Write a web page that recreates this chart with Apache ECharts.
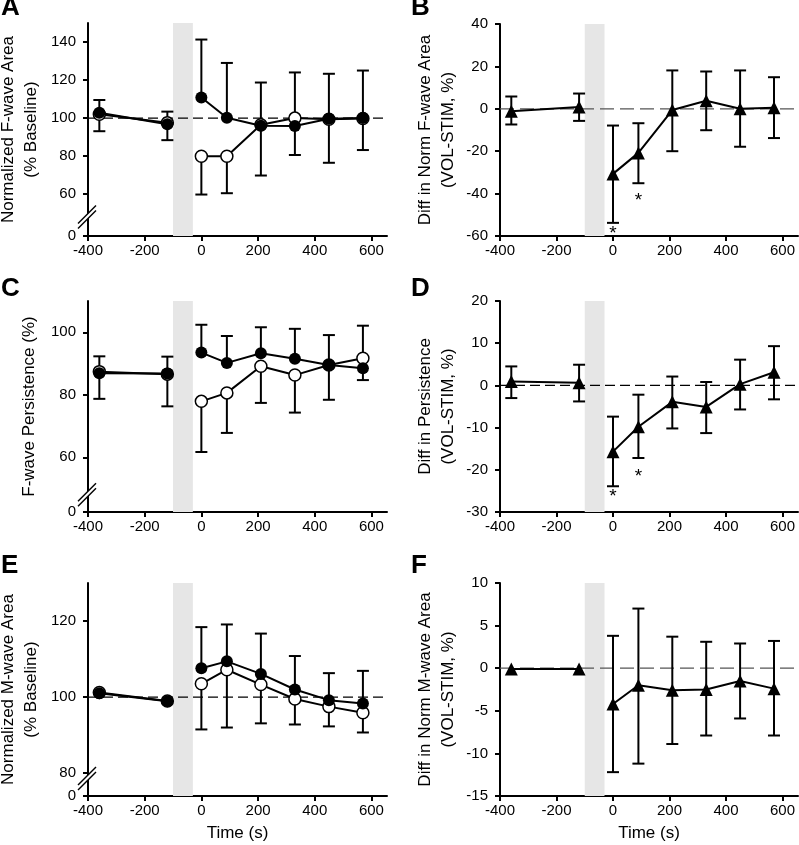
<!DOCTYPE html>
<html>
<head>
<meta charset="utf-8">
<script src="https://cdn.jsdelivr.net/npm/echarts@6/dist/echarts.min.js"></script>
<style>
html,body{margin:0;padding:0;background:#fff;}
#chart{width:799px;height:845px;}
</style>
</head>
<body>
<div id="chart"></div>
<script>
// ---------- data ----------
const times = [-360, -120, 0, 90, 210, 330, 450, 570];
const xTicks = [-400, -200, 0, 200, 400, 600];
const stimBand = [-100, -30];

// A: Normalized F-wave area (% baseline)
const aFilled      = [102.8, 96.8, 110.8, 100.2, 96.0, 95.8, 99.6, 100.0];
const aFilledUpper = [109.5, 103.4, 141.3, 129.0, 118.7, 124.0, 123.3, 125.0];
const aOpen        = [102.0, 97.5, 79.9, 79.9, 96.5, 100.0, 99.4, 99.8];
const aOpenLower   = [93.1, 88.4, 59.8, 60.5, 69.8, 80.6, 76.5, 83.2];
const aTicks = [60, 80, 100, 120, 140];

// B: Diff in norm F-wave area (VOL-STIM, %)
const bDiff  = [-1.1, 0.9, -30.7, -20.8, -0.6, 3.8, 0.0, 0.5];
const bUpper = [5.8, 7.2, -7.9, -6.8, 18.1, 17.6, 18.1, 14.9];
const bLower = [-7.4, -5.7, -53.8, -35.1, -20.0, -10.1, -17.9, -13.8];
const bTicks = [-60, -40, -20, 0, 20, 40];
const bStars = [[0, -57.2], [90, -41.5]];

// C: F-wave persistence (%)
const cFilled      = [86.9, 86.8, 93.5, 90.2, 93.3, 91.5, 89.5, 88.5];
const cFilledUpper = [92.3, 92.2, 102.4, 98.8, 101.6, 101.1, 99.1, 102.1];
const cOpen        = [87.4, 86.6, 77.9, 80.6, 89.1, 86.3, 89.5, 91.7];
const cOpenLower   = [78.7, 76.3, 61.7, 67.8, 77.4, 74.3, 78.4, 84.7];
const cTicks = [60, 80, 100];

// D: Diff in persistence (VOL-STIM, %)
const dDiff  = [0.9, 0.6, -15.7, -9.8, -3.9, -5.1, 0.3, 3.1];
const dUpper = [4.5, 4.9, -7.4, -2.2, 2.1, 0.8, 6.1, 9.3];
const dLower = [-3.0, -3.8, -23.9, -17.2, -10.2, -11.3, -5.7, -3.3];
const dTicks = [-30, -20, -10, 0, 10, 20];
const dStars = [[0, -25.5], [90, -20.8]];

// E: Normalized M-wave area (% baseline)
const eFilled      = [101.0, 98.9, 107.6, 109.4, 106.1, 102.0, 99.2, 98.3];
const eFilledUpper = [null, null, 118.4, 119.1, 116.7, 110.8, 106.3, 106.9];
const eOpen        = [101.2, 99.0, 103.5, 107.2, 103.3, 99.5, 97.5, 95.9];
const eOpenLower   = [null, null, 91.5, 92.0, 93.1, 92.8, 92.3, 90.7];
const eTicks = [80, 100, 120];

// F: Diff in norm M-wave area (VOL-STIM, %)
const fDiff  = [-0.1, -0.1, -4.2, -2.0, -2.6, -2.5, -1.5, -2.4];
const fUpper = [null, null, 3.8, 7.0, 3.7, 3.1, 2.9, 3.2];
const fLower = [null, null, -12.2, -11.2, -8.9, -7.9, -5.9, -7.9];
const fTicks = [-15, -10, -5, 0, 5, 10];

// ---------- layout ----------
const FONT = "'Liberation Sans', Arial, sans-serif";
const X_MIN = -400, X_MAX = 655;

const panels = [
  {letter:'A', grid:{left:88, top:23, width:299, height:213}, yMin:38, yMax:150, ticks:aTicks, brk:48,
   name:'Normalized F-wave Area\n(% Baseline)', nameGap:45, ref:100, refColor:'#000', refDash:[10,5],
   groups:[{vals:aOpen, ends:aOpenLower, open:true},{vals:aFilled, ends:aFilledUpper, open:false}]},
  {letter:'B', grid:{left:500, top:24, width:298, height:212}, yMin:-60, yMax:40, ticks:bTicks,
   name:'Diff in Norm F-wave Area\n(VOL-STIM, %)', nameGap:40, ref:0, refColor:'#555', refDash:[14,6],
   tri:{vals:bDiff, upper:bUpper, lower:bLower}, stars:bStars},
  {letter:'C', grid:{left:88, top:301, width:299, height:211}, yMin:42.5, yMax:110, ticks:cTicks, brk:48,
   name:'F-wave Persistence (%)', nameGap:47, ref:null,
   groups:[{vals:cOpen, ends:cOpenLower, open:true},{vals:cFilled, ends:cFilledUpper, open:false}]},
  {letter:'D', grid:{left:500, top:301, width:298, height:211}, yMin:-30, yMax:20, ticks:dTicks,
   name:'Diff in Persistence\n(VOL-STIM, %)', nameGap:40, ref:0, refColor:'#000', refDash:[10,5],
   tri:{vals:dDiff, upper:dUpper, lower:dLower}, stars:dStars},
  {letter:'E', grid:{left:88, top:583, width:299, height:213}, yMin:74, yMax:130, ticks:eTicks, brk:78.6,
   name:'Normalized M-wave Area\n(% Baseline)', nameGap:45, ref:100, refColor:'#000', refDash:[10,5], xName:'Time (s)',
   groups:[{vals:eOpen, ends:eOpenLower, open:true},{vals:eFilled, ends:eFilledUpper, open:false}]},
  {letter:'F', grid:{left:500, top:583, width:298, height:213}, yMin:-15, yMax:10, ticks:fTicks,
   name:'Diff in Norm M-wave Area\n(VOL-STIM, %)', nameGap:40, ref:0, refColor:'#555', refDash:[14,6], xName:'Time (s)',
   tri:{vals:fDiff, upper:fUpper, lower:fLower}}
];
const letterPos = {A:[1,-5], B:[411,-5], C:[1,276], D:[411,276], E:[1,553], F:[411,553]};

// ---------- option ----------
const grids = [], xAxes = [], yAxes = [], series = [], graphics = [];

function errSeries(i, vals, ends) {
  const data = [];
  times.forEach((t, k) => { if (ends[k] != null) data.push([t, vals[k], ends[k]]); });
  return {
    type:'custom', xAxisIndex:i, yAxisIndex:i, z:3, clip:false, silent:true,
    encode:{x:0, y:[1,2]}, data,
    renderItem:(params, api) => {
      const p = api.coord([api.value(0), api.value(1)]);
      const e = api.coord([api.value(0), api.value(2)]);
      const st = {stroke:'#000', lineWidth:2};
      return {type:'group', children:[
        {type:'line', shape:{x1:p[0], y1:p[1], x2:e[0], y2:e[1]}, style:st},
        {type:'line', shape:{x1:e[0]-6, y1:e[1], x2:e[0]+6, y2:e[1]}, style:st}
      ]};
    }
  };
}

function lineSegs(i, vals, style) {
  const pre = times.slice(0, 2).map((t, k) => [t, vals[k]]);
  const post = times.slice(2).map((t, k) => [t, vals[k + 2]]);
  return [pre, post].map(d => Object.assign({
    type:'line', xAxisIndex:i, yAxisIndex:i, data:d, silent:true,
    lineStyle:{color:'#000', width:2}
  }, style));
}

panels.forEach((p, i) => {
  grids.push(Object.assign({containLabel:false, outerBoundsMode:'none'}, p.grid));
  xAxes.push({
    type:'value', gridIndex:i, min:X_MIN, max:X_MAX,
    axisLine:{show:true, onZero:false, lineStyle:{color:'#000', width:2}},
    axisTick:{show:true, length:5, lineStyle:{color:'#000', width:2}, customValues:xTicks},
    axisLabel:{color:'#000', fontSize:15, fontFamily:FONT, margin:7, customValues:xTicks},
    splitLine:{show:false},
    name:p.xName || '', nameLocation:'middle', nameGap:29,
    nameTextStyle:{color:'#000', fontSize:17, fontFamily:FONT}
  });
  const yLabelVals = p.brk != null ? [p.yMin].concat(p.ticks) : p.ticks;
  yAxes.push({
    type:'value', gridIndex:i, min:p.yMin, max:p.yMax,
    axisLine:{show:true, onZero:false, lineStyle:{color:'#000', width:2}},
    axisTick:{show:true, length:5, lineStyle:{color:'#000', width:2}, customValues:yLabelVals},
    axisLabel:{color:'#000', fontSize:15, fontFamily:FONT, margin:12, customValues:yLabelVals,
      formatter:(v) => (p.brk != null && Math.abs(v - p.yMin) < 1e-6) ? '0' : String(v)},
    splitLine:{show:false},
    name:p.name, nameLocation:'middle', nameRotate:90, nameGap:p.nameGap,
    nameTextStyle:{color:'#000', fontSize:17, lineHeight:23, fontFamily:FONT}
  });

  // gray stimulation band
  series.push({
    type:'custom', xAxisIndex:i, yAxisIndex:i, z:1, silent:true,
    encode:{x:[0,2], y:1}, data:[[stimBand[0], p.yMin, stimBand[1]]],
    renderItem:(params, api) => {
      const cs = params.coordSys;
      const x1 = api.coord([api.value(0), api.value(1)])[0];
      const x2 = api.coord([api.value(2), api.value(1)])[0];
      return {type:'rect', shape:{x:x1, y:cs.y, width:x2 - x1, height:cs.height}, style:{fill:'#e6e6e6'}};
    }
  });

  // dashed reference line
  if (p.ref != null) {
    series.push({
      type:'custom', xAxisIndex:i, yAxisIndex:i, z:2, silent:true,
      encode:{x:[0,2], y:1}, data:[[X_MIN, p.ref, X_MAX]],
      renderItem:(params, api) => {
        const a = api.coord([api.value(0), api.value(1)]);
        const b = api.coord([api.value(2), api.value(1)]);
        return {type:'line', shape:{x1:a[0], y1:a[1], x2:b[0], y2:b[1]},
          style:{stroke:p.refColor, lineWidth:1.2, lineDash:p.refDash}};
      }
    });
  }

  // axis break mark
  if (p.brk != null) {
    series.push({
      type:'custom', xAxisIndex:i, yAxisIndex:i, z:10, clip:false, silent:true,
      encode:{x:0, y:1}, data:[[X_MIN, p.brk]],
      renderItem:(params, api) => {
        const c = api.coord([api.value(0), api.value(1)]);
        const x = c[0] - 1, y = c[1];
        const st = {stroke:'#000', lineWidth:1.5};
        return {type:'group', children:[
          {type:'polygon', shape:{points:[[x-9,y+11.5],[x+9,y-6.5],[x+9,y-11.5],[x-9,y+6.5]]}, style:{fill:'#fff'}},
          {type:'line', shape:{x1:x-9, y1:y+11.5, x2:x+9, y2:y-6.5}, style:st},
          {type:'line', shape:{x1:x-9, y1:y+6.5, x2:x+9, y2:y-11.5}, style:st}
        ]};
      }
    });
  }

  if (p.groups) {
    p.groups.forEach((g, gi) => {
      series.push(errSeries(i, g.vals, g.ends));
      const style = g.open
        ? {z:4 + gi, symbol:'circle', symbolSize:12, itemStyle:{color:'#fff', borderColor:'#000', borderWidth:1.5}}
        : {z:4 + gi, symbol:'circle', symbolSize:12, itemStyle:{color:'#000', borderColor:'#000', borderWidth:0}};
      lineSegs(i, g.vals, style).forEach(s => series.push(s));
    });
  }
  if (p.tri) {
    series.push(errSeries(i, p.tri.vals, p.tri.upper));
    series.push(errSeries(i, p.tri.vals, p.tri.lower));
    lineSegs(i, p.tri.vals, {z:5, symbol:'triangle', symbolSize:13, itemStyle:{color:'#000'}})
      .forEach(s => series.push(s));
  }
  if (p.stars) {
    series.push({
      type:'custom', xAxisIndex:i, yAxisIndex:i, z:6, clip:false, silent:true,
      encode:{x:0, y:1}, data:p.stars,
      renderItem:(params, api) => {
        const c = api.coord([api.value(0), api.value(1)]);
        return {type:'text', x:c[0], y:c[1] + 4,
          style:{text:'*', fontSize:19, fontFamily:FONT, fill:'#000', align:'center', verticalAlign:'middle'}};
      }
    });
  }

  const lp = letterPos[p.letter];
  graphics.push({type:'text', left:lp[0], top:lp[1], silent:true,
    style:{text:p.letter, font:"bold 26px " + FONT, fill:'#000'}});
});

const chart = echarts.init(document.getElementById('chart'), null, {renderer:'canvas'});
chart.setOption({
  animation:false,
  backgroundColor:'#fff',
  grid:grids, xAxis:xAxes, yAxis:yAxes, series, graphic:graphics
});
</script>
</body>
</html>
